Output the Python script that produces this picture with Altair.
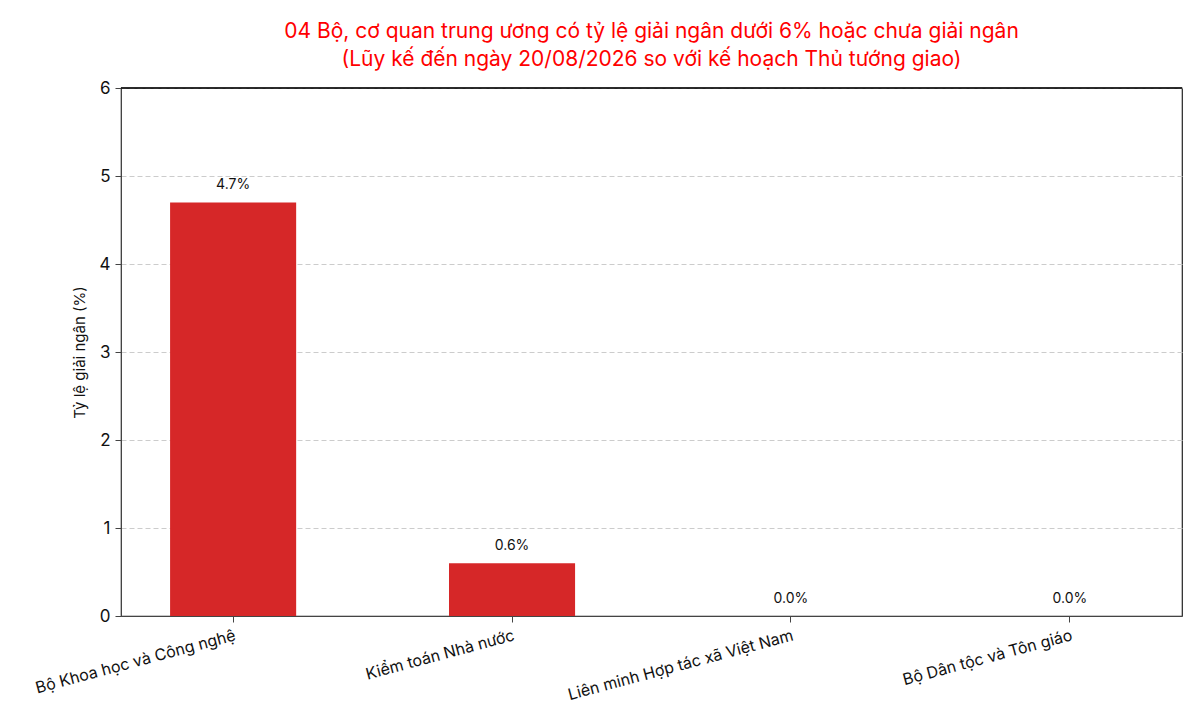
import altair as alt
import pandas as pd

categories = ["Bộ Khoa học và Công nghệ", "Kiểm toán Nhà nước",
              "Liên minh Hợp tác xã Việt Nam", "Bộ Dân tộc và Tôn giáo"]
values = [4.7, 0.6, 0.0, 0.0]
labels = ["4.7%", "0.6%", "0.0%", "0.0%"]

df = pd.DataFrame({"cat": categories, "val": values, "lab": labels})

FONT = "Inter"

x = alt.X("cat:N", sort=categories, title=None,
          scale=alt.Scale(paddingInner=0.548, paddingOuter=0.176),
          axis=alt.Axis(labelAngle=-15, labelAlign="right", labelBaseline="top",
                        labelFontSize=16, labelColor="#111", labelPadding=5, labelLimit=0,
                        tickSize=6, tickColor="#444", domainColor="#444",
                        labelFont=FONT, grid=False))
y = alt.Y("val:Q", title="Tỷ lệ giải ngân (%)",
          scale=alt.Scale(domain=[0, 6], nice=False),
          axis=alt.Axis(values=[0, 1, 2, 3, 4, 5, 6], format="d", labelFontSize=17,
                        labelColor="#111",
                        labelFont=FONT, tickSize=6, tickColor="#444", domainColor="#444",
                        labelPadding=5, titleFont=FONT, titleFontSize=15,
                        titleFontWeight="normal", titleColor="#111", titlePadding=12,
                        grid=True, gridColor="#cccccc", gridDash=[5, 3], gridWidth=1))

bars = alt.Chart(df).mark_bar(color="#d62728").encode(x=x, y=y)
text = alt.Chart(df).mark_text(baseline="bottom", dy=-10, fontSize=14, font=FONT,
                               color="#111").encode(
    x=alt.X("cat:N", sort=categories), y="val:Q", text="lab:N")
top_line = alt.Chart(df).mark_rule(color="#222", strokeWidth=1.2).encode(
    x=alt.value(0), x2=alt.value(1061), y=alt.value(0))

chart = (bars + text + top_line).properties(
    width=1061, height=528,
    autosize=alt.AutoSizeParams(type="none"),
    padding={"left": 113, "top": 80, "right": 10, "bottom": 100},
    title=alt.TitleParams(
        text=["04 Bộ, cơ quan trung ương có tỷ lệ giải ngân dưới 6% hoặc chưa giải ngân",
              "(Lũy kế đến ngày 20/08/2026 so với kế hoạch Thủ tướng giao)"],
        color="#ff0000", fontSize=21, font=FONT, fontWeight="normal",
        anchor="middle", lineHeight=28, offset=9),
).configure(background="white").configure_view(stroke="#222", strokeWidth=1.2)

chart.save("out.html", embed_options={"renderer": "svg", "actions": False})
